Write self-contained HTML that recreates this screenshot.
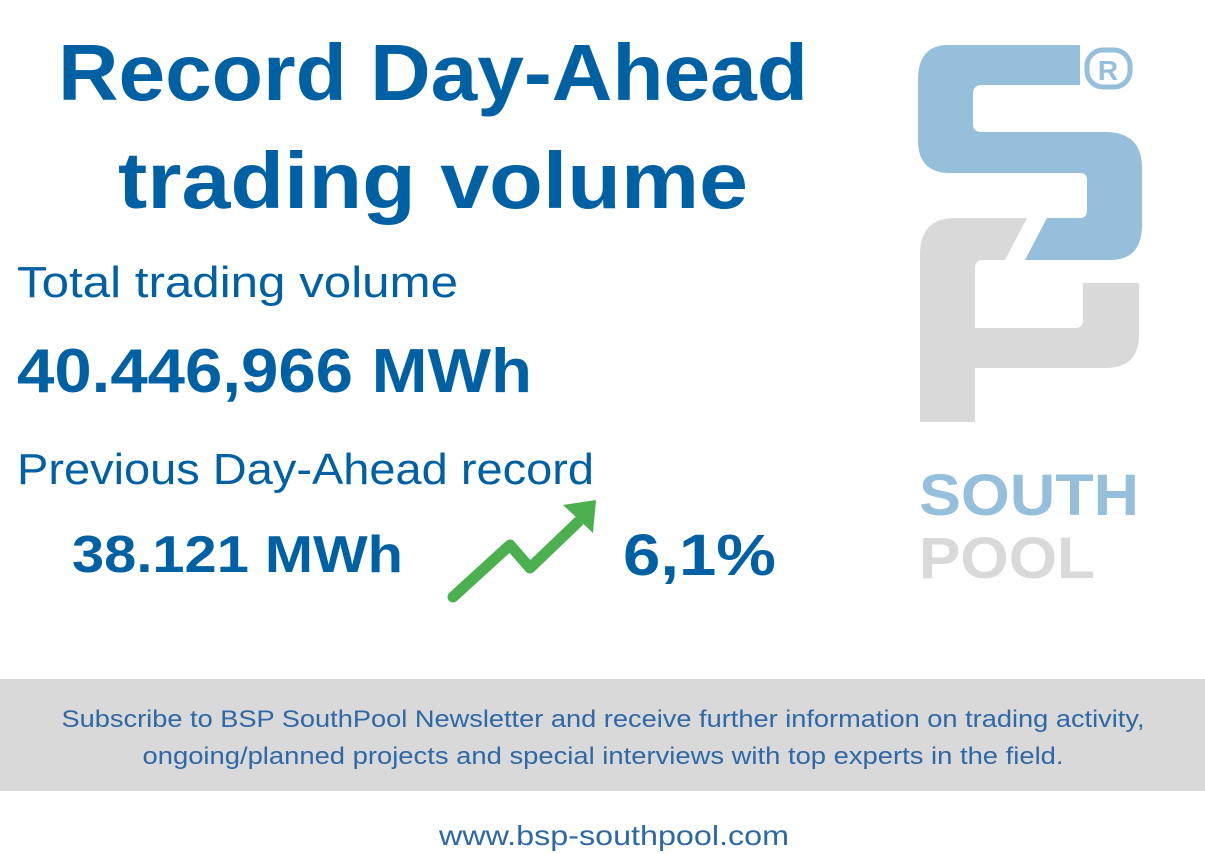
<!DOCTYPE html>
<html><head><style>
html,body{margin:0;padding:0;background:#fff;}
svg{display:block}
</style></head><body>
<svg width="1205" height="854" viewBox="0 0 1205 854" xmlns="http://www.w3.org/2000/svg" font-family="Liberation Sans, sans-serif">
<rect width="1205" height="854" fill="#fff"/>
<g fill="#0060a4" font-weight="bold">
<text x="58" y="100" font-size="80" textLength="750" lengthAdjust="spacingAndGlyphs">Record Day-Ahead</text>
<text x="118" y="208" font-size="80" textLength="630" lengthAdjust="spacingAndGlyphs">trading volume</text>
<text x="17" y="392" font-size="62" textLength="515" lengthAdjust="spacingAndGlyphs">40.446,966 MWh</text>
<text x="72" y="572" font-size="52" textLength="331" lengthAdjust="spacingAndGlyphs">38.121 MWh</text>
<text x="623" y="575" font-size="58" textLength="153" lengthAdjust="spacingAndGlyphs">6,1%</text>
</g>
<g fill="#0060a4">
<text x="17" y="297" font-size="44" textLength="441" lengthAdjust="spacingAndGlyphs">Total trading volume</text>
<text x="17" y="484" font-size="44" textLength="577" lengthAdjust="spacingAndGlyphs">Previous Day-Ahead record</text>
</g>
<polyline points="453,597 510,545 530,568 578,522" fill="none" stroke="#4caf50" stroke-width="11" stroke-linecap="round" stroke-linejoin="round"/>
<polygon points="596,500 593,533 563,505" fill="#4caf50"/>
<path d="M1080,45 L948,45 Q918,45 918,80 L918,140 Q918,173 950,173 L1080,173 Q1087,173 1087,180 L1087,210 Q1087,218 1080,218 L1047,218 L1025,260 L1110,260 Q1142,260 1142,225 L1142,168 Q1142,132 1105,132 L982,132 Q973,132 973,124 L973,94 Q973,85 982,85 L1080,85 Z" fill="#95bfdb"/>
<rect x="1087" y="50" width="43" height="37" rx="16" fill="none" stroke="#95bfdb" stroke-width="5"/>
<text x="1108" y="80" font-size="28" font-weight="bold" fill="#95bfdb" text-anchor="middle">R</text>
<path d="M1027,218 L955,218 Q920,218 920,255 L920,422 L975,422 L975,368 L1105,368 Q1139,368 1139,335 L1139,283 L1083,283 L1083,320 Q1083,328 1075,328 L975,328 L975,268 Q975,260 983,260 L1005,260 Z" fill="#d9d9d9"/>
<text x="919" y="515" font-size="58" font-weight="bold" fill="#95bfdb" textLength="220" lengthAdjust="spacingAndGlyphs">SOUTH</text>
<text x="919" y="578" font-size="58" font-weight="bold" fill="#d9d9d9" textLength="176" lengthAdjust="spacingAndGlyphs">POOL</text>
<rect x="0" y="679" width="1205" height="112" fill="#d9d9d9"/>
<g fill="#2e68a6" font-size="24" text-anchor="middle">
<text x="603" y="727" textLength="1083" lengthAdjust="spacingAndGlyphs">Subscribe to BSP SouthPool Newsletter and receive further information on trading activity,</text>
<text x="603" y="764" textLength="921" lengthAdjust="spacingAndGlyphs">ongoing/planned projects and special interviews with top experts in the field.</text>
</g>
<text x="614" y="845" font-size="28" fill="#2e68a6" text-anchor="middle" textLength="350" lengthAdjust="spacingAndGlyphs">www.bsp-southpool.com</text>
</svg>
</body></html>
